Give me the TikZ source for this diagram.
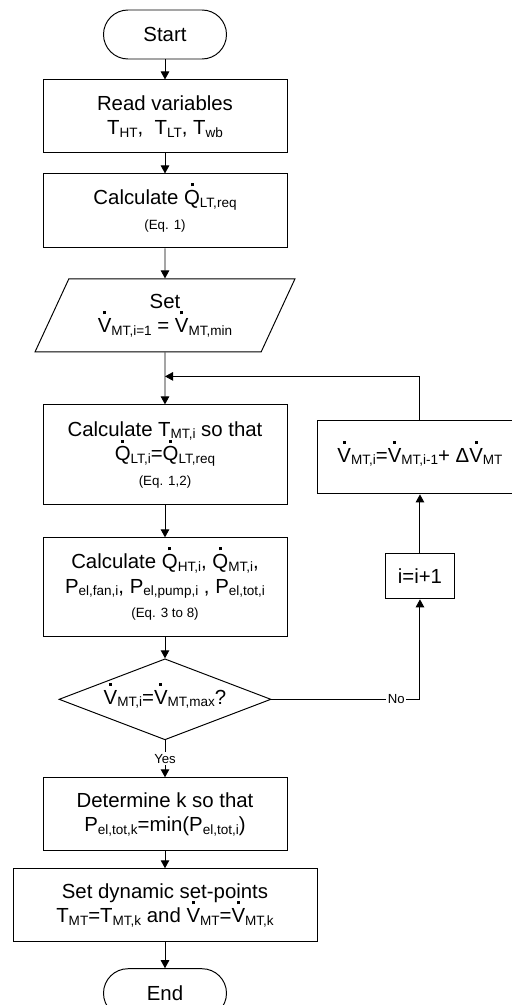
\documentclass[tikz,border=0pt]{standalone}
\usepackage{fontspec}
\setmainfont{Liberation Sans}
\usetikzlibrary{arrows.meta,positioning,shapes.geometric}
\newsavebox\dtbox
\newcommand{\lo}[1]{\raisebox{-1.5pt}{\fontsize{7.7}{9}\selectfont #1}}
\newcommand{\dt}[1]{\sbox\dtbox{#1}\makebox[0pt][l]{\makebox[\wd\dtbox][c]{\smash{\raisebox{10.4pt}{\rule{1.7pt}{1.7pt}}}}}\usebox\dtbox}
\newcommand{\eqf}{\fontsize{7.6}{9}\selectfont}

\begin{document}
\begin{tikzpicture}[
    line width=0.55pt,
    font=\fontsize{11.6}{14}\selectfont,
    box/.style={rectangle,draw,align=center,minimum width=4.88cm,minimum height=1.46cm,inner sep=2pt},
    term/.style={rectangle,draw,rounded corners=0.49cm,minimum width=2.46cm,minimum height=0.98cm},
    io/.style={trapezium,draw,trapezium left angle=63.7,trapezium right angle=116.3,trapezium stretches=true,align=center,minimum width=5.2cm,minimum height=1.46cm,inner sep=2pt},
    decide/.style={diamond,draw,aspect=2.6,inner sep=0pt,minimum width=4.24cm,minimum height=1.62cm},
    arrow/.style={-{Triangle[length=1.6mm,width=1.7mm]}},
    lbl/.style={fill=white,inner sep=1pt,font=\fontsize{7.5}{9}\selectfont}
]
\useasboundingbox (0,0) rectangle (10.22,-20.1);
\node[term] (start) at (3.3,-0.69) {Start};
\node[box,below=0.4cm of start] (read) {Read variables\\T\lo{HT},\ \ T\lo{LT}, T\lo{wb}};
\node[box,below=0.4cm of read,minimum height=1.48cm] (calcq) {Calculate \dt{Q}\lo{LT,req}\\{\eqf (Eq. 1)}};
\node[io,below=0.6cm of calcq] (set) {Set\\\dt{V}\lo{MT,i=1} = \dt{V}\lo{MT,min}};
\node[box,below=1.04cm of set,minimum height=2cm] (calct) {Calculate T\lo{MT,i} so that\\\dt{Q}\lo{LT,i}=\dt{Q}\lo{LT,req}\\{\eqf (Eq. 1,2)}};
\node[box,below=0.64cm of calct,minimum height=1.98cm] (calcp) {Calculate \dt{Q}\lo{HT,i}, \dt{Q}\lo{MT,i},\\P\lo{el,fan,i}, P\lo{el,pump,i} , P\lo{el,tot,i}\\{\eqf (Eq. 3 to 8)}};
\node[decide,below=0.42cm of calcp] (check) {\dt{V}\lo{MT,i}=\dt{V}\lo{MT,max}?};
\node[box,below=0.74cm of check] (det) {Determine k so that\\P\lo{el,tot,k}=min(P\lo{el,tot,i})};
\node[box,below=0.34cm of det,minimum width=6.08cm] (dyn) {Set dynamic set-points\\T\lo{MT}=T\lo{MT,k} and \dt{V}\lo{MT}=\dt{V}\lo{MT,k}};
\node[term,below=0.52cm of dyn] (stop) {End};
% loop on the right
\node[box,right=0.6cm of calct,minimum width=4.08cm,yshift=-0.05cm] (upd) {\dt{V}\lo{MT,i}=\dt{V}\lo{MT,i-1}+ Δ\dt{V}\lo{MT}};
\node[box,below=1.18cm of upd,minimum width=1.38cm,minimum height=0.9cm] (inc) {i=i+1};
\coordinate[below=0.48cm of set] (loop);
\draw[arrow] (start) -- (read);
\draw[arrow] (read) -- (calcq);
\draw[arrow] (calcq) -- (set);
\draw[arrow] (set) -- (calct);
\draw[arrow] (calct) -- (calcp);
\draw[arrow] (calcp) -- (check);
\draw[arrow] (check) -- node[lbl] {Yes} (det);
\draw[arrow] (det) -- (dyn);
\draw[arrow] (dyn) -- (stop);
\draw[arrow] (check) -| node[lbl,pos=0.42] {No} (inc);
\draw[arrow] (inc) -- (upd);
\draw[arrow] (upd) |- (loop);
\end{tikzpicture}
\end{document}
